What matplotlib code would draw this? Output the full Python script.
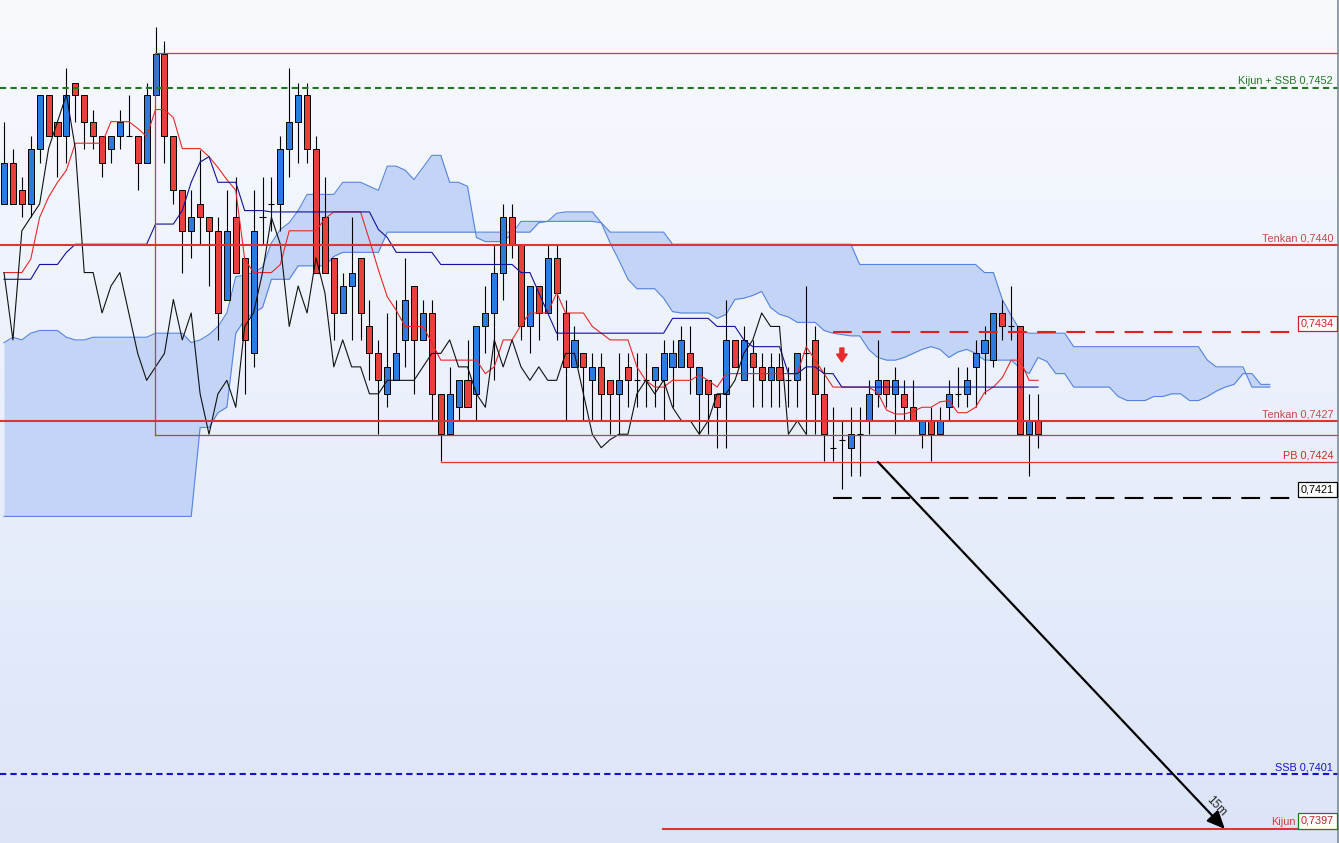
import matplotlib
matplotlib.use("Agg")
import matplotlib.pyplot as plt
import numpy as np
from matplotlib.patches import FancyArrow

plt.rcParams['font.family'] = ['Liberation Sans', 'DejaVu Sans']

# prices are written in pips (1 pip = 0.0001): 7443.4 -> 0.74434
opens = [7443.4, 7446.4, 7444.4, 7443.4, 7447.5, 7451.5, 7449.5, 7448.4, 7452.4, 7451.5,
         7449.5, 7448.4, 7447.5, 7448.4, 7448.4, 7448.4, 7446.4, 7451.5, 7454.5, 7448.4,
         7444.4, 7441.4, 7443.4, 7442.4, 7441.4, 7436.3, 7442.4, 7439.4, 7432.3, 7442.4,
         7443.4, 7443.4, 7447.5, 7449.5, 7451.5, 7447.5, 7442.4, 7439.4, 7435.3, 7437.3,
         7439.4, 7434.3, 7432.3, 7429.3, 7430.3, 7433.3, 7437.3, 7433.3, 7435.3, 7429.3,
         7426.3, 7428.3, 7430.3, 7429.3, 7434.3, 7435.3, 7438.3, 7442.4, 7440.4, 7434.3,
         7437.3, 7435.3, 7439.4, 7435.3, 7431.3, 7432.3, 7430.3, 7431.3, 7430.3, 7429.3,
         7431.3, 7430.3, 7430.3, 7430.3, 7430.3, 7431.3, 7431.3, 7432.3, 7429.3, 7430.3,
         7429.3, 7429.3, 7433.3, 7430.3, 7432.3, 7431.3, 7430.3, 7431.3, 7430.3, 7430.3,
         7432.3, 7433.3, 7429.3, 7425.3, 7425.9, 7425.3, 7426.3, 7427.3, 7429.3, 7430.3,
         7429.3, 7429.3, 7428.3, 7426.3, 7427.3, 7426.3, 7428.3, 7429.3, 7429.3, 7431.3,
         7432.3, 7431.8, 7435.3, 7434.3, 7434.3, 7426.3, 7427.3]
highs = [7449.5, 7447.5, 7445.4, 7448.4, 7451.5, 7451.5, 7449.5, 7453.5, 7452.4, 7451.5,
         7450.4, 7448.4, 7448.4, 7450.4, 7451.5, 7448.4, 7452.4, 7456.5, 7455.5, 7448.4,
         7444.4, 7444.4, 7447.4, 7442.4, 7442.4, 7444.4, 7445.4, 7439.4, 7444.4, 7445.4,
         7445.4, 7448.4, 7453.5, 7452.4, 7452.4, 7448.4, 7445.4, 7439.4, 7438.3, 7442.4,
         7439.4, 7436.3, 7433.3, 7435.3, 7436.3, 7439.4, 7437.3, 7436.3, 7436.3, 7429.3,
         7431.3, 7430.3, 7433.3, 7434.3, 7437.3, 7440.4, 7443.4, 7443.4, 7440.4, 7437.3,
         7437.3, 7440.4, 7440.4, 7436.3, 7434.3, 7432.3, 7432.3, 7432.3, 7430.3, 7432.3,
         7432.3, 7432.3, 7432.3, 7431.3, 7433.3, 7433.3, 7434.3, 7434.3, 7431.3, 7430.3,
         7429.3, 7436.3, 7433.3, 7434.3, 7433.3, 7432.3, 7432.3, 7432.3, 7431.3, 7432.3,
         7437.3, 7434.3, 7431.3, 7428.3, 7427.3, 7428.3, 7428.3, 7430.3, 7433.3, 7430.3,
         7431.3, 7430.3, 7430.3, 7427.3, 7428.3, 7428.3, 7430.3, 7431.3, 7431.3, 7433.3,
         7434.3, 7435.3, 7436.3, 7437.3, 7434.3, 7429.3, 7429.3]
lows = [7443.4, 7443.4, 7442.4, 7442.4, 7446.4, 7448.4, 7445.4, 7446.4, 7449.5, 7447.5,
        7447.5, 7445.4, 7446.4, 7447.5, 7448.4, 7444.4, 7446.4, 7451.5, 7446.4, 7443.4,
        7438.3, 7439.4, 7440.4, 7437.3, 7433.3, 7436.3, 7438.3, 7429.3, 7431.3, 7440.4,
        7441.4, 7441.4, 7445.4, 7446.4, 7446.4, 7438.3, 7438.3, 7433.3, 7435.3, 7433.3,
        7433.3, 7430.3, 7426.3, 7428.3, 7430.3, 7431.3, 7429.3, 7433.3, 7427.3, 7424.3,
        7426.3, 7427.3, 7428.3, 7427.3, 7432.3, 7430.3, 7436.3, 7439.4, 7433.3, 7432.3,
        7433.3, 7435.3, 7433.3, 7427.3, 7431.3, 7427.3, 7427.3, 7427.3, 7426.3, 7426.3,
        7428.3, 7428.3, 7428.3, 7428.3, 7427.3, 7428.3, 7431.3, 7429.3, 7426.3, 7426.3,
        7425.3, 7425.3, 7431.3, 7430.3, 7428.3, 7428.3, 7428.3, 7428.3, 7428.3, 7428.3,
        7426.3, 7426.3, 7424.3, 7424.3, 7422.2, 7423.2, 7423.2, 7426.3, 7428.3, 7428.3,
        7426.3, 7427.3, 7427.3, 7425.3, 7424.3, 7426.3, 7427.3, 7428.3, 7428.3, 7428.3,
        7429.3, 7431.3, 7433.3, 7433.3, 7426.3, 7423.2, 7425.3]
closes = [7446.4, 7443.4, 7443.4, 7447.5, 7451.5, 7448.4, 7448.4, 7451.5, 7451.5, 7449.5,
          7448.4, 7446.4, 7448.4, 7449.5, 7448.4, 7446.4, 7451.5, 7454.5, 7448.4, 7444.4,
          7441.4, 7442.4, 7442.4, 7441.4, 7435.3, 7441.4, 7438.3, 7433.3, 7441.4, 7442.4,
          7443.4, 7447.5, 7449.5, 7451.5, 7447.5, 7438.3, 7438.3, 7435.3, 7437.3, 7438.3,
          7435.3, 7432.3, 7430.3, 7431.3, 7432.3, 7436.3, 7433.3, 7435.3, 7429.3, 7426.3,
          7429.3, 7430.3, 7428.3, 7434.3, 7435.3, 7438.3, 7442.4, 7440.4, 7434.3, 7437.3,
          7435.3, 7439.4, 7436.8, 7431.3, 7433.3, 7431.3, 7431.3, 7429.3, 7429.3, 7430.3,
          7430.3, 7430.3, 7430.3, 7431.3, 7432.3, 7432.3, 7433.3, 7431.3, 7431.3, 7429.3,
          7428.3, 7433.3, 7431.3, 7433.3, 7431.3, 7430.3, 7431.3, 7430.3, 7430.3, 7432.3,
          7432.3, 7429.3, 7426.3, 7425.3, 7425.9, 7426.3, 7426.3, 7429.3, 7430.3, 7429.3,
          7430.3, 7428.3, 7427.3, 7427.3, 7426.3, 7427.3, 7429.3, 7429.3, 7430.3, 7432.3,
          7433.3, 7435.3, 7434.3, 7434.3, 7426.3, 7427.3, 7426.3]

tenkan = [7438.3, 7438.3, 7438.3, 7439.3, 7442.4, 7443.9, 7445.0, 7445.9, 7447.9, 7447.9,
          7447.9, 7447.9, 7449.5, 7449.5, 7449.5, 7449.0, 7448.4, 7450.4, 7450.4, 7449.8,
          7447.5, 7447.5, 7447.5, 7446.9, 7446.1, 7445.2, 7444.4, 7439.3, 7438.3, 7438.3,
          7438.3, 7438.9, 7441.4, 7441.4, 7441.4, 7441.4, 7442.3, 7442.8, 7442.8, 7442.8,
          7442.8, 7440.7, 7438.5, 7436.5, 7435.5, 7434.3, 7434.3, 7434.3, 7433.1, 7431.8,
          7431.8, 7431.8, 7431.8, 7431.8, 7430.8, 7431.3, 7433.3, 7433.3, 7434.4, 7435.3,
          7435.3, 7435.3, 7436.8, 7435.3, 7435.3, 7435.3, 7434.3, 7433.8, 7433.3, 7433.3,
          7433.3, 7431.3, 7430.3, 7429.8, 7429.8, 7430.3, 7430.3, 7430.3, 7430.7, 7430.3,
          7429.8, 7430.8, 7430.8, 7430.8, 7430.8, 7430.8, 7430.8, 7430.8, 7430.8, 7430.8,
          7432.8, 7431.8, 7430.8, 7429.8, 7429.8, 7429.8, 7429.8, 7429.8, 7429.4, 7428.1,
          7427.8, 7427.8, 7428.0, 7428.3, 7428.3, 7428.7, 7428.8, 7427.9, 7427.9, 7428.3,
          7429.4, 7429.8, 7430.5, 7431.8, 7431.8, 7430.3, 7430.3]
kijun = ([7437.8, 7437.8, 7437.8, 7437.8, 7438.9, 7438.9, 7438.9, 7439.8, 7440.4, 7440.4]
         + [7440.4] * 7 + [7441.9] * 3
         + [7442.9, 7445.0, 7446.5, 7446.9, 7445.0, 7445.0, 7445.0, 7442.9, 7442.9, 7442.9]
         + [7442.8] * 12
         + [7441.5, 7440.9, 7439.8, 7439.8, 7439.8, 7439.8, 7439.8, 7438.9]
         + [7438.9] * 8 + [7438.3, 7438.3]
         + [7436.8, 7435.3] + [7433.8] * 13 + [7434.9] * 5
         + [7434.3, 7434.3, 7434.3, 7433.3, 7432.8, 7432.8, 7432.8, 7432.8, 7430.8, 7430.8]
         + [7431.3, 7431.3, 7430.8, 7430.8] + [7429.8] * 23)

# Kumo (already projected 26 bars ahead)
cloud_a = ([7433.1, 7433.5, 7433.3, 7433.8, 7434.0, 7434.0, 7434.0, 7433.5, 7433.3, 7433.3]
           + [7433.5] * 7 + [7433.8] * 3
           + [7433.8, 7433.1, 7433.3, 7433.7, 7434.3, 7435.3, 7438.0, 7438.1, 7438.3, 7438.7]
           + [7440.5, 7441.5, 7442.0, 7442.9, 7444.1, 7444.1, 7444.1, 7444.1, 7445.0, 7445.0]
           + [7445.0, 7444.7, 7444.4, 7446.2, 7446.2, 7445.9, 7445.2, 7446.1, 7447.0, 7447.0]
           + [7445.0, 7445.0, 7444.7, 7440.9, 7440.6, 7440.6, 7440.6, 7441.2, 7442.1, 7442.1]
           + [7442.1, 7442.1, 7442.7, 7442.8, 7442.8, 7442.8, 7442.8, 7442.0, 7441.3, 7441.3]
           + [7441.3] * 5 + [7440.4] * 21 + [7438.9] * 14
           + [7438.3, 7438.3, 7436.3, 7435.1, 7434.0] + [7433.8] * 5
           + [7432.8] * 15 + [7431.8] + [7431.3] * 4 + [7429.8] * 3)
cloud_b = ([7420.2] * 22
           + [7426.8, 7426.8, 7427.9, 7428.3, 7433.8, 7434.8, 7435.3, 7435.7]
           + [7437.8, 7437.8, 7437.8, 7438.8, 7438.8, 7438.8, 7438.8, 7439.5, 7439.8, 7439.8]
           + [7439.8, 7439.8, 7439.8] + [7441.3] * 17
           + [7442.0] + [7442.1] * 6 + [7442.0, 7440.5, 7439.2]
           + [7437.8, 7437.1, 7437.1, 7437.1, 7436.4, 7435.4, 7435.3, 7435.3, 7435.3, 7435.3]
           + [7434.9, 7435.2, 7436.3, 7436.4, 7436.6, 7436.9, 7435.7, 7435.2, 7435.0, 7434.6]
           + [7434.6, 7434.6, 7434.0, 7433.8, 7433.7, 7433.6, 7433.6, 7432.6, 7432.0, 7431.8]
           + [7431.8, 7432.0, 7432.3, 7432.6, 7432.8, 7432.6, 7432.0, 7432.4, 7432.6, 7432.3]
           + [7431.8, 7431.8, 7431.8, 7431.8, 7431.2, 7430.8, 7432.0, 7431.7, 7430.8, 7430.8]
           + [7429.8] * 5 + [7429.1, 7428.8, 7428.8, 7428.8, 7429.1]
           + [7429.1, 7429.3, 7429.3, 7428.8, 7428.8, 7429.1, 7429.5, 7429.8, 7430.0, 7430.8]
           + [7430.8, 7430.0, 7430.0])
CHIKOU_SHIFT = 26

# drawn levels (pips)
rect_top, rect_bottom = 7454.6, 7426.25
kijun_ssb = 7452.0
tenkan_high = 7440.35
level_7434 = 7433.9
tenkan_low = 7427.3
pb_level = 7424.24
level_7421 = 7421.6
ssb_level = 7401.1
kijun_level = 7397.0


def px(a):
    return np.asarray(a, dtype=float) / 1e4


o, h, l, c = px(opens), px(highs), px(lows), px(closes)
idx = np.arange(len(o))

fig = plt.figure(figsize=(13.39, 8.43), dpi=100)
ax = fig.add_axes([0, 0, 1, 1])

# background gradient
top_col = np.array([248, 250, 254]) / 255
bot_col = np.array([220, 229, 248]) / 255
t = np.linspace(0, 1, 256)[:, None]
grad = (top_col * (1 - t) + bot_col * t)[:, None, :]
ax.imshow(grad, extent=[0, 1, 0, 1], transform=ax.transAxes, aspect='auto', zorder=0)

X_MIN, X_MAX = -0.45, 149.77
ax.set_xlim(X_MIN, X_MAX)
ax.set_ylim(0.739596, 0.745853)
ax.axis('off')

# cloud
cx = np.arange(len(cloud_a))
ax.fill_between(cx, px(cloud_a), px(cloud_b), color='#c3d4f7', lw=0, zorder=1)
ax.plot(cx, px(cloud_a), color='#5584e0', lw=0.8, zorder=1.5)
ax.plot(cx, px(cloud_b), color='#5584e0', lw=0.8, zorder=1.5)

# candles
w = 0.68
up = c > o
dn = c < o
dj = c == o
ax.vlines(idx, l, h, color='black', lw=0.8, zorder=4)
ax.bar(idx[up], (c - o)[up], bottom=o[up], width=w, color='#2b7be0',
       edgecolor='black', linewidth=0.7, zorder=5)
ax.bar(idx[dn], (o - c)[dn], bottom=c[dn], width=w, color='#e8403a',
       edgecolor='black', linewidth=0.7, zorder=5)
ax.hlines(c[dj], idx[dj] - w / 2, idx[dj] + w / 2, color='black', lw=0.8, zorder=5)

# ichimoku lines
ax.plot(idx, px(tenkan), color='#e8282a', lw=0.8, zorder=6)
ax.plot(idx, px(kijun), color='#12129a', lw=0.8, zorder=6)
ax.plot(idx[:len(c) - CHIKOU_SHIFT], c[CHIKOU_SHIFT:], color='#111111', lw=0.8, zorder=6)

# drawings
red = '#e03434'
ax.plot([16.95, X_MAX], [px(rect_top)] * 2, color=red, lw=0.9, zorder=7)
ax.plot([16.95, 16.95], [px(rect_bottom), px(rect_top)], color=red, lw=0.9, zorder=7)
ax.plot([16.95, X_MAX], [px(rect_bottom)] * 2, color=red, lw=0.9, zorder=7)
ax.axhline(px(kijun_ssb), color='#1e7a1e', lw=1.5, ls=(0, (3, 2)), zorder=7)
ax.axhline(px(tenkan_high), color=red, lw=1.5, zorder=7)
ax.axhline(px(tenkan_low), color=red, lw=1.5, zorder=7)
ax.plot([49, X_MAX], [px(pb_level)] * 2, color=red, lw=0.9, zorder=7)
ax.plot([93, 145.05], [px(level_7434)] * 2, color='#e02020', lw=1.5, ls=(0, (9, 5)), zorder=7)
ax.plot([93, 145.05], [px(level_7421)] * 2, color='black', lw=1.5, ls=(0, (9, 5)), zorder=7)
ax.axhline(px(ssb_level), color='#1414c8', lw=1.5, ls=(0, (3, 2)), zorder=7)
ax.plot([73.9, X_MAX], [px(kijun_level)] * 2, color=red, lw=1.5, zorder=7)
ax.axvline(149.66, color='#7f8c99', lw=1.2, zorder=8)

# target arrow
ax.annotate('', xy=(136.97, px(kijun_level)), xytext=(98.05, px(pb_level)),
            arrowprops=dict(arrowstyle='-|>,head_length=0.9,head_width=0.4', color='black',
                            lw=1.6, shrinkA=0, shrinkB=0, mutation_scale=12), zorder=8)
ax.text(136.0, px(7398.7), '15m', rotation=-46.6, rotation_mode='anchor',
        ha='center', va='center', fontsize=8.5, color='#222222', zorder=9)

# sell signal marker
ax.add_patch(FancyArrow(94, px(7432.7), 0, -px(1.04), width=0.45, head_width=1.2,
                        head_length=px(0.59), length_includes_head=True,
                        color='#e82a2a', zorder=8))

fs = 7.8


def label(text, level, color, x=X_MAX, dx=-4.3):
    ax.annotate(text, xy=(x, px(level)), xytext=(dx, 1.2), textcoords='offset points',
                ha='right', va='bottom', fontsize=fs, color=color, zorder=9)


def box(text, level, color, edge):
    ax.annotate(text, xy=(X_MAX, px(level)), xytext=(-3.6, 2.2), textcoords='offset points',
                ha='right', va='bottom', fontsize=fs, color=color, zorder=9,
                bbox=dict(boxstyle='square,pad=0.25', fc='white', ec=edge, lw=0.9))


label('Kijun + SSB 0,7452', kijun_ssb, '#1e7a1e')
label('Tenkan 0,7440', tenkan_high, '#c84848')
label('Tenkan 0,7427', tenkan_low, '#c84848')
label('PB 0,7424', pb_level, '#d02828')
label('SSB 0,7401', ssb_level, '#1414c8')
label('Kijun', kijun_level, '#d03c3c', x=144.94, dx=0)
box('0,7434', level_7434, '#d02020', '#d02020')
box('0,7421', level_7421, 'black', 'black')
box('0,7397', kijun_level, '#c02020', '#1e7a1e')

fig.savefig('out.png', dpi=100)
